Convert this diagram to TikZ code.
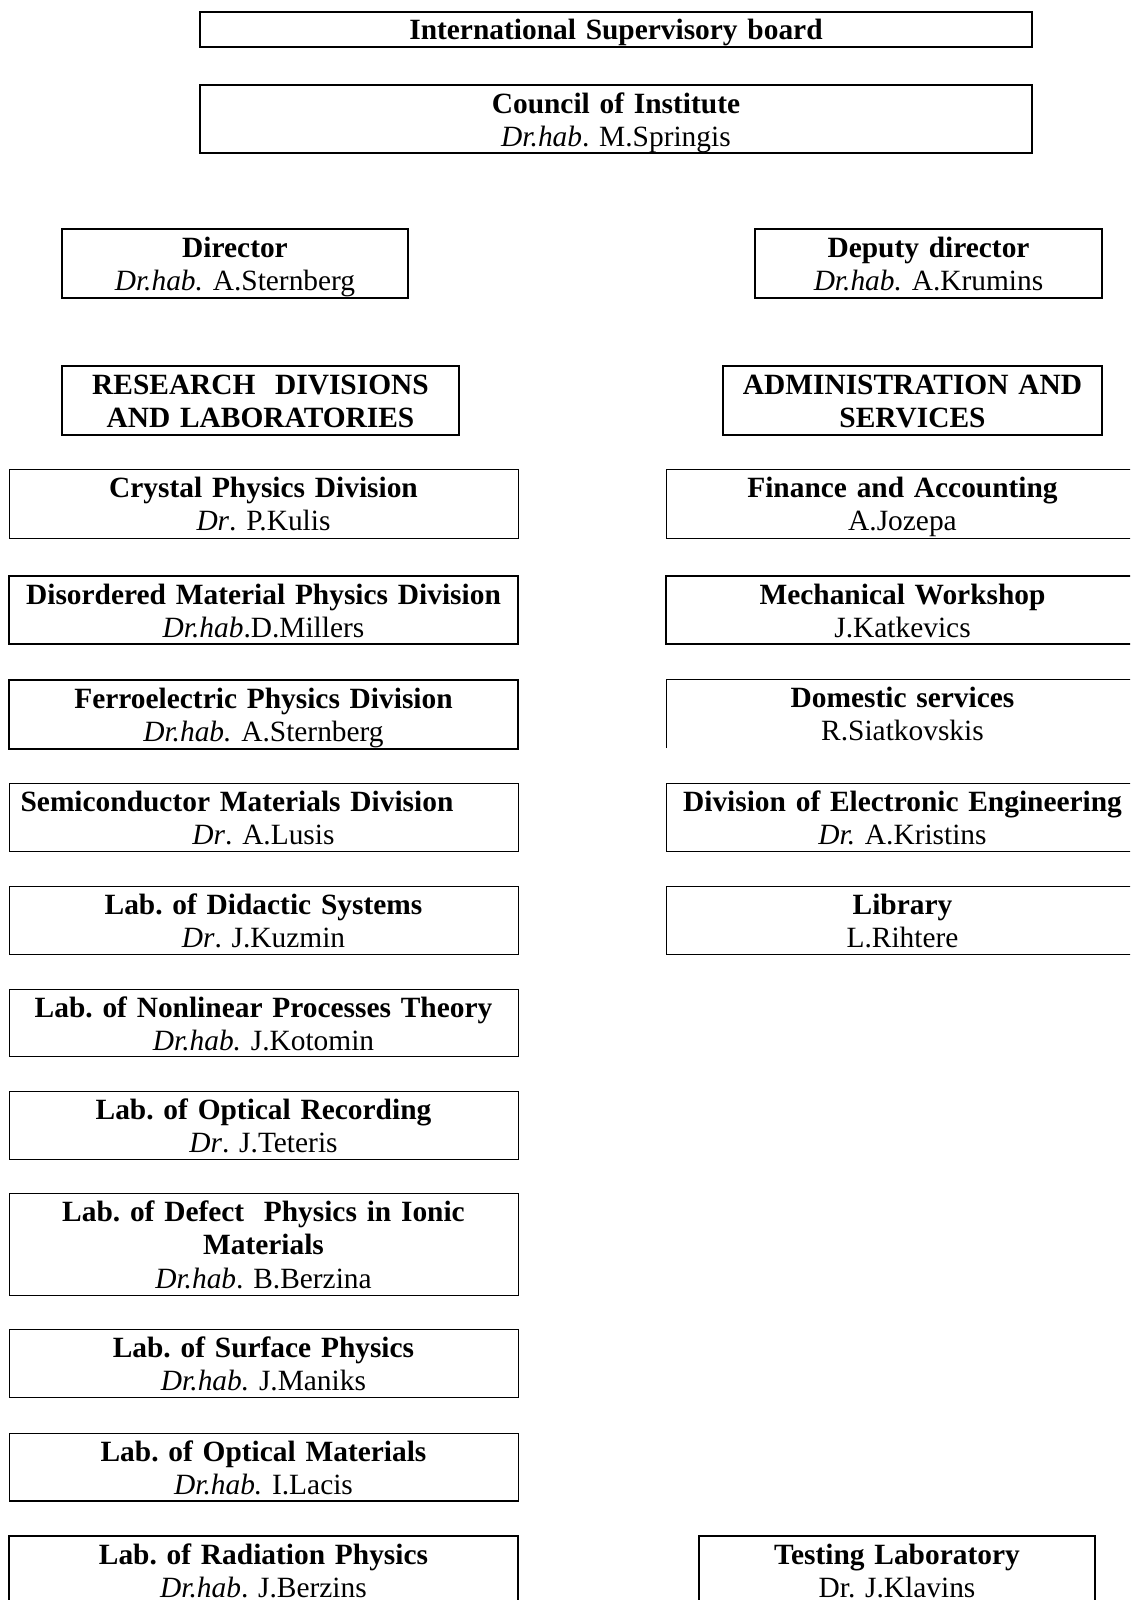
\documentclass[tikz,border=0pt]{standalone}
\usepackage{fontspec}
\setmainfont{Liberation Serif}
\frenchspacing
\tikzset{
  x=0.5pt, y=-0.5pt,
  boxthin/.style={draw, line width=0.45pt, inner sep=0pt, outer sep=0pt},
  boxthick/.style={draw, line width=0.8pt, inner sep=0pt, outer sep=0pt},
  boxnone/.style={inner sep=0pt, outer sep=0pt},
  txt/.style={inner sep=0pt, outer sep=0pt, align=center,
    font=\fontsize{14.7pt}{16.8pt}\selectfont\frenchspacing}
}
\newcommand\orgbox[7]{%
  \node[#6, anchor=north west, minimum width={(#4-#2)*0.5pt}, minimum height={(#5-#3)*0.5pt}] (#1) at (#2,#3) {};
  \node[txt, text width={(#4-#2)*0.5pt-4pt}, anchor=base] (#1-t) at ({(#2+#4)/2},{#3+28}) {#7};
}
\begin{document}
\begin{tikzpicture}
\useasboundingbox (0,0) rectangle (1130,1600);
\clip (0,0) rectangle (1130,1600);
% top
\orgbox{isb}{200}{12}{1032}{47}{boxthick}{\textbf{International Supervisory board}}
\orgbox{council}{200}{85}{1032}{153}{boxthick}{\textbf{Council of Institute}\\\textit{Dr.hab}. M.Springis}
\orgbox{director}{62}{229}{408}{298}{boxthick}{\textbf{Director}\\\textit{Dr.hab.} A.Sternberg}
\orgbox{deputy}{755}{229}{1102}{298}{boxthick}{\textbf{Deputy director}\\\textit{Dr.hab.} A.Krumins}
\orgbox{research}{62}{366}{459}{435}{boxthick}{\textbf{RESEARCH\ \ DIVISIONS}\\\textbf{AND LABORATORIES}}
\orgbox{admin}{723}{366}{1102}{435}{boxthick}{\textbf{ADMINISTRATION AND}\\\textbf{SERVICES}}
% left column
\orgbox{crystal}{9}{469}{518}{538}{boxthin}{\textbf{Crystal Physics Division}\\\textit{Dr}. P.Kulis}
\orgbox{disord}{9}{576}{518}{644}{boxthick}{\textbf{Disordered Material Physics Division}\\\textit{Dr.hab}.D.Millers}
\orgbox{ferro}{9}{680}{518}{749}{boxthick}{\textbf{Ferroelectric Physics Division}\\\textit{Dr.hab.} A.Sternberg}
\orgbox{semi}{9}{783}{518}{851}{boxthin}{\textbf{Semiconductor Materials Division}\hspace*{26.5pt}\mbox{}\\\textit{Dr}. A.Lusis}
\orgbox{didactic}{9}{886}{518}{954}{boxthin}{\textbf{Lab. of Didactic Systems}\\\textit{Dr}. J.Kuzmin}
\orgbox{nonlin}{9}{989}{518}{1056}{boxthin}{\textbf{Lab. of Nonlinear Processes Theory}\\\textit{Dr.hab.} J.Kotomin}
\orgbox{optrec}{9}{1091}{518}{1159}{boxthin}{\textbf{Lab. of Optical Recording}\\\textit{Dr}. J.Teteris}
\orgbox{defect}{9}{1193}{518}{1295}{boxthin}{\textbf{Lab. of Defect\ \ Physics in Ionic}\\\textbf{Materials}\\\textit{Dr.hab}. B.Berzina}
\orgbox{surface}{9}{1329}{518}{1397}{boxthin}{\textbf{Lab. of Surface Physics}\\\textit{Dr.hab.} J.Maniks}
\orgbox{optmat}{9}{1433}{518}{1501}{boxthin}{\textbf{Lab. of Optical Materials}\\\textit{Dr.hab.} I.Lacis}
\draw[line width=0.8pt] (optmat.south west) -- (optmat.south east);
\orgbox{radiation}{9}{1536}{518}{1625}{boxthick}{\textbf{Lab. of Radiation Physics}\\\textit{Dr.hab}. J.Berzins}
% right column
\orgbox{finance}{666}{469}{1139}{538}{boxthin}{\textbf{Finance and Accounting}\\A.Jozepa}
\orgbox{mech}{666}{576}{1139}{644}{boxthick}{\textbf{Mechanical Workshop}\\J.Katkevics}
\orgbox{domestic}{666}{679}{1139}{748}{boxnone}{\textbf{Domestic services}\\R.Siatkovskis}
\draw[line width=0.45pt] (domestic.south west) -- (domestic.north west) -- (domestic.north east);
\orgbox{electronic}{666}{783}{1139}{851}{boxthin}{\textbf{Division of Electronic Engineering}\\\textit{Dr.} A.Kristins}
\orgbox{library}{666}{886}{1139}{954}{boxthin}{\textbf{Library}\\L.Rihtere}
\orgbox{testing}{699}{1536}{1095}{1625}{boxthick}{\textbf{Testing Laboratory}\\Dr. J.Klavins}
\end{tikzpicture}
\end{document}
